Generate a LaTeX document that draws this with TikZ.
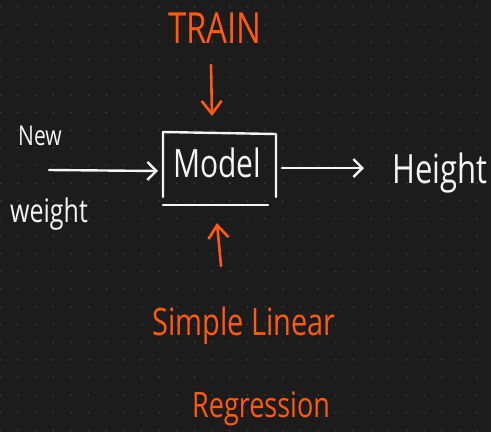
\documentclass[tikz,border=0pt]{standalone}
\usepackage{fontspec}
\setmainfont{Open Sans}
\usetikzlibrary{arrows.meta}
\definecolor{boardbg}{HTML}{1C1C1C}
\definecolor{boarddot}{HTML}{3A3A3A}
\definecolor{chalkwhite}{HTML}{F4F4F4}
\definecolor{markerorange}{HTML}{FF5A0F}
% Hand lettering is taller than the font: stretch it upward.
\newcommand{\tallink}[1]{\scalebox{1}[1.3]{#1}}

\begin{document}
\begin{tikzpicture}[
  x=1pt,
  y=-1pt,
  line cap=round,
  line join=round,
  ink/.style={draw=chalkwhite,line width=2.4pt},
  inkarrow/.style={ink,-{Straight Barb[length=9pt,width=18pt]}},
  markarrow/.style={draw=markerorange,line width=2.6pt,-{Straight Barb[length=13pt,width=20pt]}},
  whitelabel/.style={text=chalkwhite,inner sep=0pt,anchor=base west},
  orangelabel/.style={text=markerorange,inner sep=0pt,anchor=base west}
]
  % Board background and canvas frame.
  \fill[boardbg] (0,0) rectangle (491,432);
  \useasboundingbox (0,0) rectangle (491,432);

  % Dotted grid of the board.
  \foreach \gx in {0,...,27}{
    \foreach \gy in {0,...,24}{
      \fill[boarddot] (0.3+17.66*\gx,6.6+17.66*\gy) circle[radius=1pt];
    }
  }

  % Labels.
  \node[orangelabel,font=\fontsize{33}{33}\selectfont] (train) at (168,43) {\tallink{TRAIN}};
  \node[whitelabel,font=\fontsize{30}{30}\selectfont] (model) at (173,177) {\tallink{Model}};
  \node[whitelabel,font=\fontsize{21}{21}\selectfont] (newlbl) at (18,145) {\tallink{New}};
  \node[whitelabel,font=\fontsize{25}{25}\selectfont] (weightlbl) at (10,222) {\tallink{weight}};
  \node[whitelabel,font=\fontsize{31}{31}\selectfont] (heightlbl) at (392,183) {\tallink{Height}};
  \node[orangelabel,font=\fontsize{29}{29}\selectfont] (simplelin) at (152,335) {\tallink{Simple Linear}};
  \node[orangelabel,font=\fontsize{27}{27}\selectfont] (regress) at (192,417) {\tallink{Regression}};

  % Frame round the model, bottom stroke drawn apart.
  \draw[ink] (163,197) -- (163,132) -- (276,134) -- (276,197);
  \draw[ink] (163,205) -- (268,205);

  % Arrow ends.
  \coordinate (inStart) at (49,170);
  \coordinate (boxW) at (158,171);
  \coordinate (boxE) at (282,168);
  \coordinate (outEnd) at (364,168);
  \coordinate (trainTail) at (211,65);
  \coordinate (boxN) at (212,116);
  \coordinate (linTail) at (221,266);
  \coordinate (boxS) at (217,223);

  % Data flow in and out, training input from above and below.
  \draw[inkarrow] (inStart) -- (boxW);
  \draw[inkarrow] (boxE) -- (outEnd);
  \draw[markarrow] (trainTail) -- (boxN);
  \draw[markarrow] (linTail) -- (boxS);
\end{tikzpicture}
\end{document}
